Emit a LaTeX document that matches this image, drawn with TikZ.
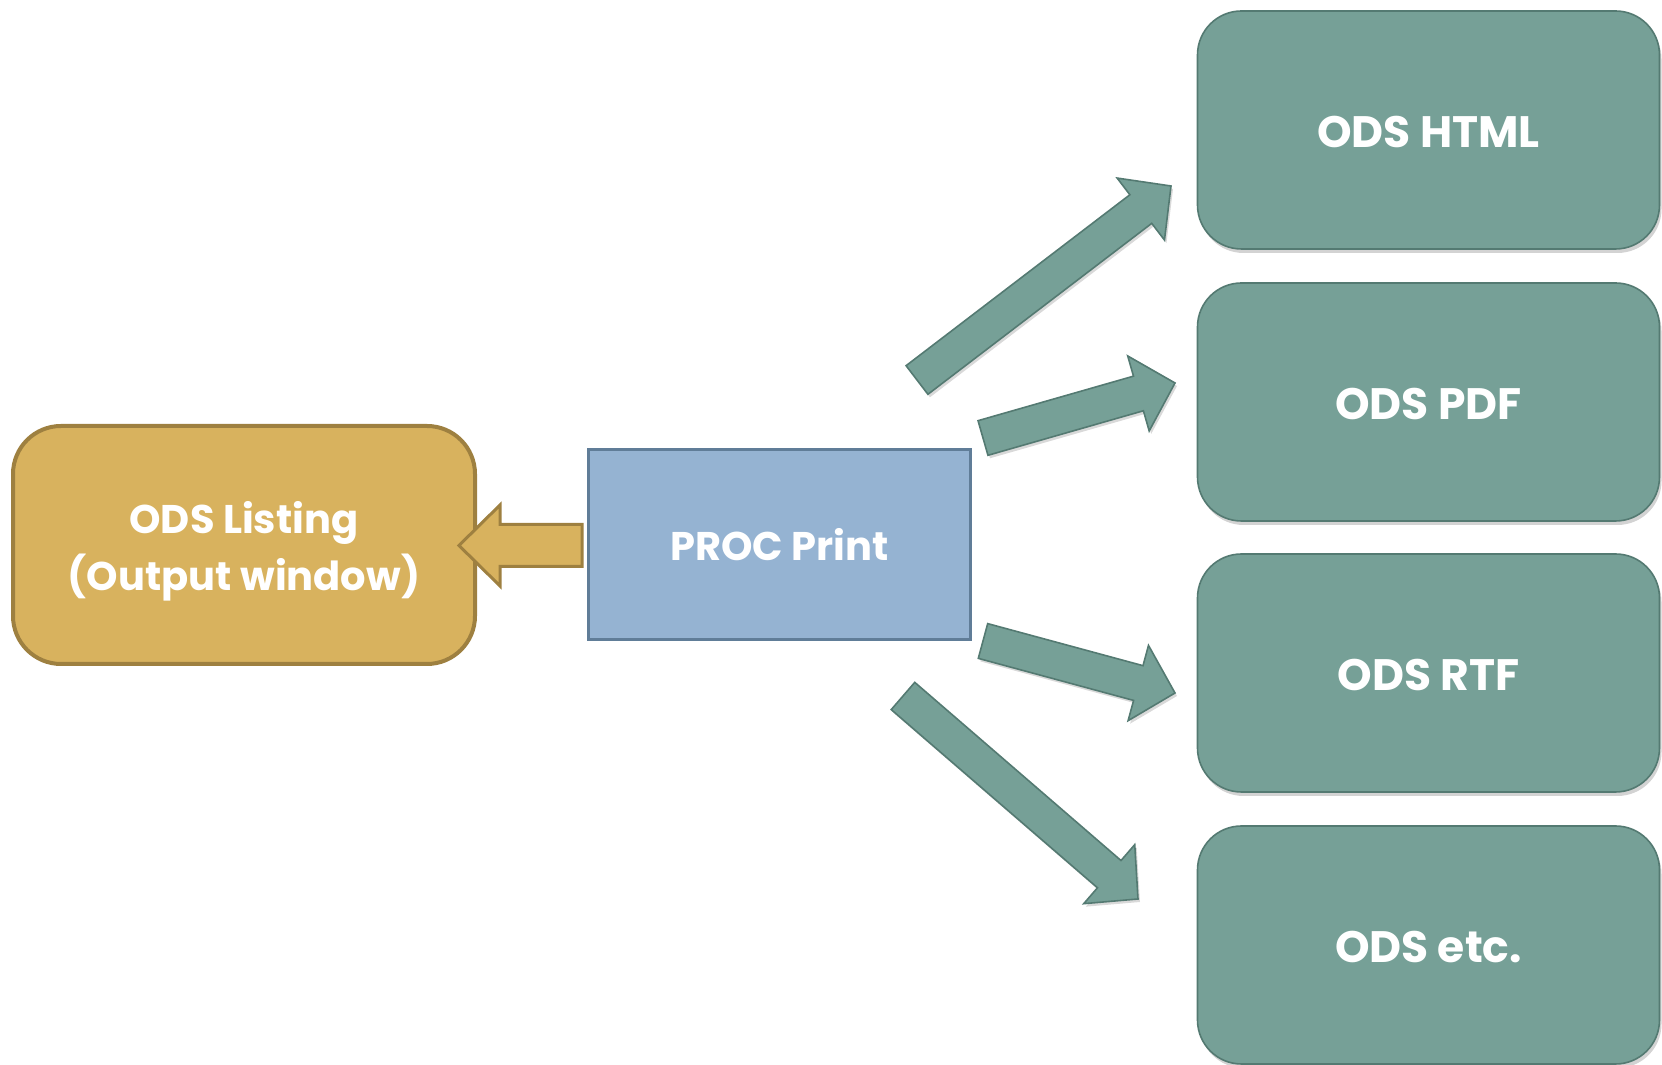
\documentclass[tikz,border=0pt]{standalone}
\usepackage{fontspec}
\setmainfont{Poppins}
\usetikzlibrary{calc,shadows}
\definecolor{goldf}{RGB}{216,178,94}
\definecolor{golddk}{RGB}{158,128,64}
\definecolor{bluef}{RGB}{149,179,210}
\definecolor{bluedk}{RGB}{96,125,152}
\definecolor{tealf}{RGB}{118,160,151}
\definecolor{tealdk}{RGB}{84,122,114}
\begin{document}
\begin{tikzpicture}[x=0.5pt,y=0.5pt,
  lbl/.style={text=white,font=\bfseries\fontsize{20}{28.5}\selectfont,align=center,inner sep=0pt},
  goldbox/.style={lbl,rounded corners=24pt,fill=goldf,draw=golddk,line width=2pt,minimum width=231pt,minimum height=119pt},
  bluebox/.style={lbl,fill=bluef,draw=bluedk,line width=1.5pt,minimum width=191pt,minimum height=95pt},
  tealbox/.style={lbl,font=\bfseries\fontsize{22}{29}\selectfont,text height=17.8pt,text depth=0pt,
    rounded corners=22pt,fill=tealf,draw=tealdk,line width=0.8pt,minimum width=231pt,minimum height=119pt,
    drop shadow={opacity=0.35,shadow xshift=1pt,shadow yshift=-2pt}},
  blockarrow/.style args={#1/#2/#3}{to path={
    let \p1=($(\tikztotarget)-(\tikztostart)$),
        \n1={atan2(\y1,\x1)},
        \n2={veclen(\x1,\y1)}
    in
    ($(\tikztostart)+(\n1+90:#1)$) --
    ($(\tikztostart)+(\n1:{\n2*1pt-#3})+(\n1+90:#1)$) --
    ($(\tikztostart)+(\n1:{\n2*1pt-#3})+(\n1+90:#2)$) --
    (\tikztotarget) --
    ($(\tikztostart)+(\n1:{\n2*1pt-#3})+(\n1-90:#2)$) --
    ($(\tikztostart)+(\n1:{\n2*1pt-#3})+(\n1-90:#1)$) --
    ($(\tikztostart)+(\n1-90:#1)$) -- cycle}},
  tarrow/.style={blockarrow=9pt/19.5pt/19pt,fill=tealf,draw=tealdk,line width=0.8pt,line join=miter,
    drop shadow={opacity=0.3,shadow xshift=1pt,shadow yshift=-1.5pt}},
  garrow/.style={blockarrow=10.5pt/20.25pt/20.5pt,fill=goldf,draw=golddk,line width=1.5pt,line join=miter}
]
\useasboundingbox (0,0) rectangle (1662,1065);
\clip (0,0) rectangle (1662,1065);

% boxes
\node[goldbox] (list) at (244,520) {\rule{0pt}{22pt}ODS Listing\\(Output window)};
\node[bluebox] (proc) at (779.5,520.5) {PROC Print};
\node[tealbox] (html) at (1428.5,935) {ODS HTML};
\node[tealbox] (pdf)  at (1428.5,663) {ODS PDF};
\node[tealbox] (rtf)  at (1428.5,392) {ODS RTF};
\node[tealbox] (etc)  at (1428.5,120) {ODS etc.};

% arrow end points
\coordinate (gt) at (582,519.5);
\coordinate (gh) at (459,519.5);
\coordinate (t1) at (917,685);  \coordinate (h1) at (1171,879);
\coordinate (t2) at (983,627);  \coordinate (h2) at (1175,682);
\coordinate (t3) at (983,424);  \coordinate (h3) at (1175,372);
\coordinate (t4) at (903,369);  \coordinate (h4) at (1138,166);

\draw[garrow] (gt) to (gh);
\draw[tarrow] (t1) to (h1);
\draw[tarrow] (t2) to (h2);
\draw[tarrow] (t3) to (h3);
\draw[tarrow] (t4) to (h4);
\end{tikzpicture}
\end{document}
